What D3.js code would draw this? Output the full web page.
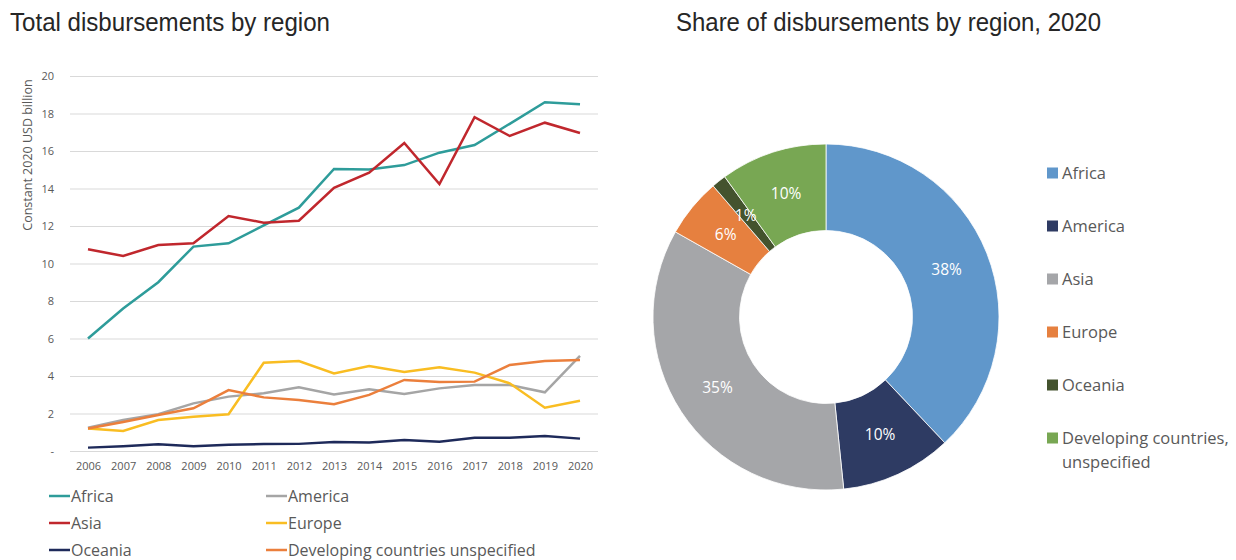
<!DOCTYPE html>
<meta charset="utf-8">
<head>
    <script src="https://d3js.org/d3.v7.min.js"></script>
</head>
<style>
    body { margin: 0; background: #fff; }
    svg text { fill: #595959; }
    .title { font-family: "Liberation Sans", Arial, sans-serif; font-size: 26px; fill: #262626; }
    .tick text { font-family: "Open Sans", sans-serif; font-size: 11px; }
    .legend text { font-family: "Open Sans", sans-serif; font-size: 16px; }
</style>
<body>
<script>
    'use strict';

    const years = [2006, 2007, 2008, 2009, 2010, 2011, 2012, 2013, 2014, 2015, 2016, 2017, 2018, 2019, 2020];
    const yTicks = [0, 2, 4, 6, 8, 10, 12, 14, 16, 18, 20];
    const regions = ["Africa", "America", "Asia", "Europe", "Oceania", "Developing countries unspecified"];
    const pieLabels = ["Africa", "America", "Asia", "Europe", "Oceania", "Developing countries,|unspecified"];

    const africa = [6.0, 7.6, 9.0, 10.9, 11.08, 12.03, 12.98, 15.04, 15.02, 15.25, 15.91, 16.32, 17.45, 18.6, 18.49];
    const america = [1.24, 1.65, 1.96, 2.54, 2.9, 3.08, 3.4, 3.02, 3.29, 3.04, 3.34, 3.52, 3.52, 3.13, 5.07];
    const asia = [10.76, 10.4, 10.99, 11.08, 12.53, 12.18, 12.28, 14.04, 14.84, 16.43, 14.24, 17.8, 16.8, 17.51, 16.96];
    const europe = [1.2, 1.07, 1.65, 1.83, 1.96, 4.71, 4.8, 4.14, 4.53, 4.21, 4.46, 4.18, 3.61, 2.31, 2.68];
    const oceania = [0.18, 0.25, 0.36, 0.26, 0.33, 0.37, 0.38, 0.48, 0.45, 0.59, 0.5, 0.71, 0.71, 0.8, 0.66];
    const developing = [1.2, 1.55, 1.92, 2.28, 3.25, 2.86, 2.72, 2.49, 2.99, 3.79, 3.68, 3.7, 4.59, 4.8, 4.85];

    const lineColors = ["#2e9c9a", "#a5a5a5", "#c0272d", "#f9bd22", "#1e2a5a", "#eb7f3c"];
    const pieColors = ["#6097cb", "#2e3b63", "#a5a6a9", "#e6803f", "#44532e", "#78a753"];

    const series = [africa, america, asia, europe, oceania, developing]
        .map((v, i) => ({ name: regions[i], values: v, color: lineColors[i] }));

    const svg = d3.select("body").append("svg")
        .attr("width", 1236)
        .attr("height", 560);

    // ---- line chart ----
    // titles are a narrow face in the original, squeeze to the same width
    svg.append("text").attr("class", "title").attr("x", 10).attr("y", 31)
        .attr("textLength", 320).attr("lengthAdjust", "spacingAndGlyphs")
        .text("Total disbursements by region");

    const x = d3.scalePoint().domain(years).range([88, 580]);
    const y = d3.scaleLinear().domain([0, 20]).range([451, 76]);

    const yAxis = svg.append("g")
        .attr("transform", "translate(70,0)")
        .call(d3.axisLeft(y).tickValues(yTicks).tickSize(-528).tickPadding(16)
            .tickFormat((d) => d === 0 ? "-" : d));
    yAxis.select(".domain").remove();
    yAxis.selectAll(".tick line").attr("stroke", "#d9d9d9");
    yAxis.selectAll(".tick text").attr("fill", "#595959");

    const xAxis = svg.append("g")
        .attr("transform", "translate(0,451)")
        .call(d3.axisBottom(x).tickSize(0).tickPadding(11));
    xAxis.select(".domain").remove();
    xAxis.selectAll(".tick text").attr("fill", "#595959");

    svg.append("text")
        .attr("transform", "translate(32,155) rotate(-90)")
        .attr("text-anchor", "middle")
        .style("font-family", "Open Sans, sans-serif")
        .style("font-size", "12.5px")
        .text("Constant 2020 USD billion");

    const line = d3.line().x((d, i) => x(years[i])).y((d) => y(d));

    svg.append("g").selectAll("path")
        .data(series)
        .join("path")
        .attr("fill", "none")
        .attr("stroke", (d) => d.color)
        .attr("stroke-width", 2.5)
        .attr("stroke-linejoin", "miter")
        .attr("d", (d) => line(d.values));

    const lineLegend = svg.append("g").attr("class", "legend")
        .selectAll("g")
        .data(series)
        .join("g")
        .attr("transform", (d, i) => `translate(${i % 2 ? 266 : 49},${496 + Math.floor(i / 2) * 27})`);
    lineLegend.append("line")
        .attr("x1", 0).attr("x2", 21)
        .attr("stroke", (d) => d.color)
        .attr("stroke-width", 2.5);
    lineLegend.append("text")
        .attr("x", 22).attr("dy", "0.35em")
        .text((d) => d.name);

    // ---- donut ----
    svg.append("text").attr("class", "title").attr("x", 676).attr("y", 31)
        .attr("textLength", 425).attr("lengthAdjust", "spacingAndGlyphs")
        .text("Share of disbursements by region, 2020");

    const shares = series.map((s, i) => ({ value: s.values[s.values.length - 1], color: pieColors[i], label: pieLabels[i] }));
    const total = d3.sum(shares, (d) => d.value);

    const pie = d3.pie().sort(null).value((d) => d.value);
    const arc = d3.arc().innerRadius(86.5).outerRadius(173);

    const donut = svg.append("g").attr("transform", "translate(826,317)");
    donut.selectAll("path")
        .data(pie(shares))
        .join("path")
        .attr("fill", (d) => d.data.color)
        .attr("stroke", "#fff")
        .attr("stroke-width", 0.8)
        .attr("d", arc);

    donut.selectAll("text")
        .data(pie(shares))
        .join("text")
        .attr("transform", (d) => `translate(${arc.centroid(d)})`)
        .attr("text-anchor", "middle")
        .attr("dy", "0.35em")
        .style("font-family", "Open Sans, sans-serif")
        .style("font-size", "15.5px")
        .style("fill", "#fff")
        .text((d) => Math.round(d.data.value / total * 100) + "%");

    const pieLegend = svg.append("g").selectAll("g")
        .data(shares)
        .join("g")
        .attr("transform", (d, i) => `translate(1047,${173 + i * 53})`);
    pieLegend.append("rect")
        .attr("y", -5.5).attr("width", 11).attr("height", 11)
        .attr("fill", (d) => d.color);
    pieLegend.append("text")
        .attr("x", 15)
        .style("font-family", "Open Sans, sans-serif")
        .style("font-size", "16.5px")
        .selectAll("tspan")
        .data((d) => d.label.split("|"))
        .join("tspan")
        .attr("x", 15)
        .attr("dy", (d, i) => i === 0 ? "0.35em" : "1.45em")
        .text((d) => d);
</script>
</body>
